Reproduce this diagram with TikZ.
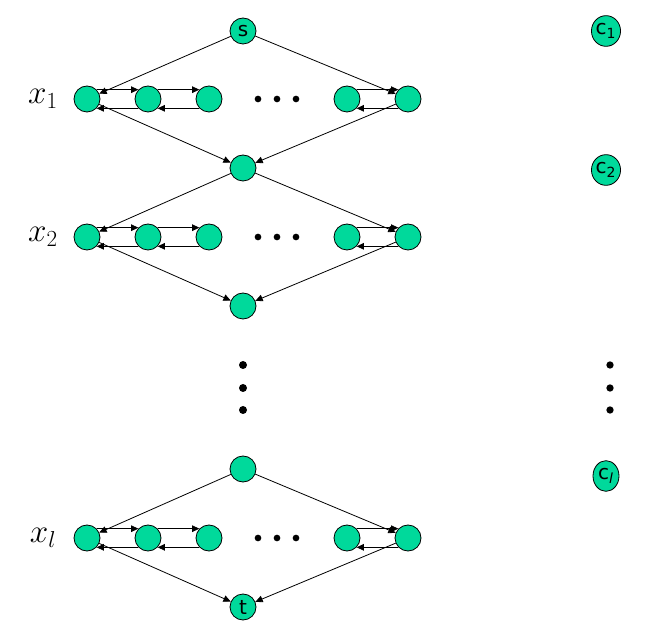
\documentclass[tikz,border=0pt]{standalone}
\usepackage{fontspec}
\newfontfamily\nodefont{DejaVu Sans}
\usetikzlibrary{arrows.meta,shapes.geometric}
\definecolor{vgreen}{RGB}{0,217,155}
\tikzset{
  vert/.style={circle,draw,fill=vgreen,line width=0.6pt,minimum size=19.5pt,inner sep=0pt,font=\nodefont\fontsize{15}{15}\selectfont},
  clause/.style={ellipse,draw,fill=vgreen,line width=0.6pt,minimum width=19.5pt,minimum height=23pt,inner sep=0pt,font=\nodefont\fontsize{15}{15}\selectfont},
  arc/.style={-{Triangle[length=5.5pt,width=5pt]},line width=0.6pt},
  dot/.style={circle,fill,inner sep=0pt,minimum size=#1},
  varlab/.style={font=\fontsize{25}{28}\selectfont}
}

\begin{document}
\begin{tikzpicture}[x=0.75pt,y=-0.75pt]
  \useasboundingbox (0,0) rectangle (664,634);

  % source, middle and sink vertices
  \node[vert] (s) at (243,31) {s};
  \node[vert] (m1) at (243,168) {};
  \node[vert] (m2) at (243,306) {};
  \node[vert] (m3) at (243,469) {};
  \node[vert] (t) at (243,607) {t};

  % one row of vertices per variable
  \foreach \r/\y/\lab/\hi/\lo in {1/99/x_1/s/m1, 2/237/x_2/m1/m2, 3/538/x_l/m3/t} {
    \node[varlab] (lab\r) at (43,\y) {$\lab$};
    \foreach \i/\x in {1/87,2/148,3/209,4/347,5/408}
      \node[vert] (v\r\i) at (\x,\y) {};
    \foreach \x in {258,277,296}
      \node[dot=5pt] (hd\r\x) at (\x,\y) {};
    % arcs along the row
    \foreach \a/\b in {1/2,2/3,4/5} {
      \draw[arc] (v\r\a.44) -- (v\r\b.136);
      \draw[arc] (v\r\b.-136) -- (v\r\a.-44);
    }
    \draw[arc] (\hi) -- (v\r1);
    \draw[arc] (\hi) -- (v\r5);
    \draw[arc] (v\r1) -- (\lo);
    \draw[arc] (v\r5) -- (\lo);
  }

  % vertical dots between the blocks
  \foreach \y in {365,388,410} {
    \node[dot=6pt] (vd\y) at (243,\y) {};
    \node[dot=5.5pt] (cd\y) at (610,\y) {};
  }

  % clause vertices
  \node[clause] (c1) at (606,31) {c\textsubscript{1}};
  \node[clause] (c2) at (606,170) {c\textsubscript{2}};
  \node[clause] (cl) at (606,476) {c\textsubscript{\textit{l}}};
\end{tikzpicture}
\end{document}
